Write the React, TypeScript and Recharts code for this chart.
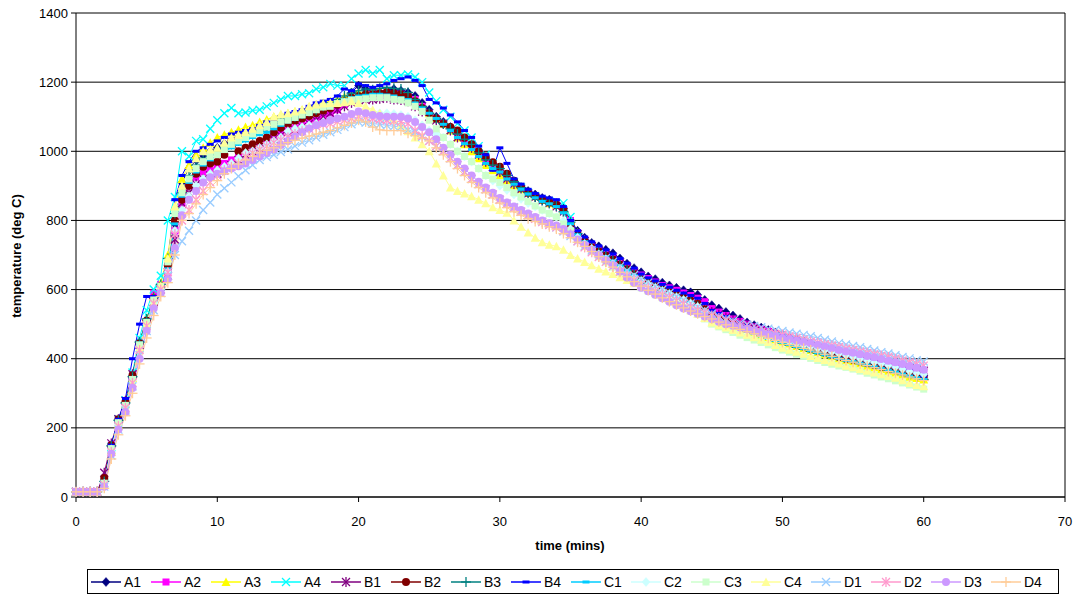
import React from "react";
import { LineChart, Line, CartesianGrid, XAxis, YAxis, ReferenceLine } from "recharts";

// time in minutes, every 30 s
const time = [
  0, 0.5, 1, 1.5, 2, 2.5, 3, 3.5, 4, 4.5, 5, 5.5, 6, 6.5, 7, 7.5, 8, 8.5, 9, 9.5,
  10, 10.5, 11, 11.5, 12, 12.5, 13, 13.5, 14, 14.5, 15, 15.5, 16, 16.5, 17, 17.5, 18, 18.5, 19, 19.5,
  20, 20.5, 21, 21.5, 22, 22.5, 23, 23.5, 24, 24.5, 25, 25.5, 26, 26.5, 27, 27.5, 28, 28.5, 29, 29.5,
  30, 30.5, 31, 31.5, 32, 32.5, 33, 33.5, 34, 34.5, 35, 35.5, 36, 36.5, 37, 37.5, 38, 38.5, 39, 39.5,
  40, 40.5, 41, 41.5, 42, 42.5, 43, 43.5, 44, 44.5, 45, 45.5, 46, 46.5, 47, 47.5, 48, 48.5, 49, 49.5,
  50, 50.5, 51, 51.5, 52, 52.5, 53, 53.5, 54, 54.5, 55, 55.5, 56, 56.5, 57, 57.5, 58, 58.5, 59, 59.5,
  60,
];

const A1 = [
  15, 15, 15, 15, 45, 145, 220, 272, 350, 450,
  512, 575, 600, 660, 790, 910, 950, 975, 990, 1000,
  1010, 1022, 1030, 1040, 1050, 1055, 1065, 1070, 1080, 1090,
  1095, 1100, 1105, 1110, 1115, 1120, 1130, 1140, 1150, 1170,
  1190, 1180, 1175, 1170, 1175, 1180, 1175, 1170, 1160, 1140,
  1120, 1100, 1085, 1070, 1055, 1035, 1015, 995, 975, 960,
  945, 925, 910, 895, 885, 875, 865, 860, 850, 835,
  800, 770, 750, 735, 725, 715, 705, 690, 675, 662,
  650, 638, 630, 620, 612, 605, 598, 592, 585, 570,
  555, 545, 535, 525, 515, 505, 497, 490, 483, 476,
  470, 463, 456, 450, 444, 438, 432, 426, 420, 414,
  408, 402, 396, 390, 385, 380, 375, 370, 365, 358,
  352,
];
const A2 = [
  15, 15, 15, 15, 40, 150, 218, 265, 345, 440,
  505, 590, 615, 650, 770, 850, 900, 925, 940, 945,
  955, 965, 975, 985, 1000, 1005, 1015, 1025, 1040, 1050,
  1060, 1068, 1075, 1085, 1090, 1098, 1110, 1120, 1135, 1145,
  1150, 1160, 1165, 1165, 1160, 1165, 1165, 1160, 1150, 1130,
  1110, 1095, 1080, 1065, 1050, 1030, 1010, 990, 970, 955,
  940, 920, 905, 890, 880, 872, 860, 855, 845, 830,
  800, 765, 745, 730, 718, 705, 695, 680, 668, 655,
  642, 632, 622, 612, 605, 598, 590, 583, 575, 565,
  545, 535, 525, 515, 508, 500, 493, 486, 479, 472,
  465, 459, 453, 447, 441, 436, 431, 426, 420, 415,
  410, 405, 400, 396, 391, 386, 381, 377, 372, 368,
  365,
];
const A3 = [
  15, 15, 15, 15, 35, 135, 210, 268, 345, 445,
  515, 580, 620, 700, 840, 920, 960, 990, 1010, 1025,
  1040, 1048, 1055, 1062, 1070, 1075, 1085, 1092, 1100, 1105,
  1110, 1115, 1120, 1128, 1135, 1140, 1145, 1150, 1158, 1165,
  1170, 1168, 1172, 1175, 1175, 1170, 1168, 1160, 1150, 1130,
  1110, 1095, 1080, 1060, 1040, 1020, 1000, 980, 960, 945,
  930, 915, 900, 890, 880, 870, 860, 850, 845, 830,
  800, 765, 745, 728, 715, 700, 688, 675, 660, 648,
  635, 625, 615, 605, 596, 588, 580, 572, 562, 545,
  530, 520, 512, 503, 494, 486, 478, 470, 463, 456,
  450, 444, 437, 431, 425, 419, 413, 407, 401, 395,
  392, 386, 380, 375, 370, 365, 360, 354, 348, 344,
  340,
];
// A4 stops reading after 35 min
const A4 = [
  15, 15, 15, 15, 40, 145, 225, 280, 360, 460,
  540, 600, 640, 800, 868, 1000, 985, 1030, 1035, 1065,
  1090, 1110, 1125, 1110, 1112, 1118, 1120, 1130, 1140, 1150,
  1160, 1160, 1165, 1168, 1180, 1185, 1195, 1190, 1190, 1210,
  1225, 1235, 1225, 1235, 1210, 1220, 1220, 1222, 1215, 1200,
  1170, 1145, 1120, 1100, 1080, 1060, 1040, 1015, 990, 965,
  940, 925, 910, 895, 880, 870, 860, 855, 850, 850,
  810,
];
const B1 = [
  15, 15, 15, 15, 70, 155, 225, 278, 355, 440,
  500, 565, 600, 640, 745, 850, 880, 905, 920, 930,
  935, 945, 960, 975, 990, 1000, 1010, 1025, 1035, 1045,
  1055, 1062, 1070, 1080, 1090, 1100, 1110, 1120, 1130, 1140,
  1150, 1148, 1150, 1152, 1155, 1150, 1148, 1145, 1130, 1115,
  1100, 1090, 1080, 1060, 1040, 1025, 1010, 990, 970, 955,
  940, 920, 905, 890, 878, 868, 858, 850, 840, 825,
  790, 760, 740, 725, 712, 700, 688, 675, 662, 648,
  630, 620, 612, 604, 596, 588, 580, 572, 562, 548,
  535, 527, 519, 511, 503, 496, 489, 482, 475, 468,
  460, 454, 448, 443, 437, 432, 426, 421, 416, 412,
  408, 403, 399, 395, 390, 386, 382, 377, 373, 369,
  365,
];
const B2 = [
  15, 15, 15, 15, 55, 150, 225, 275, 352, 445,
  510, 575, 610, 670, 800, 860, 900, 935, 955, 965,
  970, 990, 1030, 1000, 1010, 1020, 1030, 1040, 1055, 1068,
  1080, 1088, 1095, 1102, 1110, 1118, 1125, 1135, 1145, 1155,
  1160, 1165, 1165, 1168, 1170, 1168, 1165, 1160, 1145, 1125,
  1110, 1095, 1080, 1070, 1060, 1040, 1020, 1000, 985, 968,
  955, 935, 915, 895, 880, 870, 860, 852, 845, 830,
  790, 760, 740, 722, 710, 698, 686, 672, 658, 644,
  630, 620, 610, 600, 592, 584, 576, 568, 558, 542,
  530, 520, 511, 502, 494, 487, 480, 473, 466, 460,
  455, 448, 441, 435, 429, 423, 417, 411, 405, 400,
  397, 392, 387, 382, 377, 372, 367, 362, 357, 352,
  348,
];
const B3 = [
  15, 15, 15, 15, 45, 148, 222, 272, 348, 448,
  515, 578, 615, 690, 820, 880, 930, 960, 980, 990,
  1000, 1010, 1020, 1030, 1040, 1048, 1058, 1065, 1075, 1085,
  1095, 1100, 1108, 1115, 1120, 1130, 1140, 1150, 1160, 1168,
  1175, 1180, 1178, 1182, 1185, 1182, 1180, 1170, 1150, 1130,
  1110, 1095, 1080, 1065, 1050, 1035, 1020, 995, 975, 960,
  950, 930, 912, 895, 880, 868, 858, 850, 842, 825,
  795, 762, 740, 722, 710, 698, 685, 670, 655, 642,
  630, 618, 608, 598, 588, 580, 572, 563, 552, 535,
  520, 512, 503, 495, 487, 479, 472, 465, 458, 451,
  445, 439, 433, 427, 421, 416, 411, 405, 400, 395,
  390, 385, 380, 375, 370, 365, 360, 354, 348, 344,
  340,
];
const B4 = [
  15, 15, 15, 15, 40, 150, 225, 285, 400, 500,
  580, 580, 600, 680, 860, 930, 970, 1000, 1010, 1020,
  1030, 1040, 1050, 1055, 1060, 1065, 1075, 1085, 1090, 1100,
  1110, 1115, 1120, 1130, 1140, 1145, 1150, 1160, 1180, 1175,
  1195, 1190, 1185, 1190, 1195, 1205, 1210, 1215, 1205, 1190,
  1150, 1140, 1125, 1105, 1085, 1060, 1040, 1015, 990, 945,
  1010, 965, 920, 905, 890, 878, 870, 865, 860, 840,
  800, 770, 752, 738, 726, 715, 703, 690, 676, 662,
  645, 634, 625, 615, 607, 598, 590, 583, 575, 560,
  540, 531, 522, 513, 504, 496, 489, 482, 475, 468,
  460, 454, 448, 442, 436, 431, 425, 420, 415, 410,
  405, 400, 395, 390, 385, 380, 375, 370, 365, 358,
  350,
];
const C1 = [
  15, 15, 15, 15, 40, 140, 215, 268, 345, 445,
  505, 570, 605, 660, 790, 870, 910, 940, 960, 975,
  990, 1000, 1010, 1020, 1030, 1040, 1048, 1055, 1065, 1075,
  1085, 1092, 1100, 1108, 1115, 1125, 1135, 1142, 1150, 1155,
  1160, 1162, 1165, 1165, 1163, 1160, 1155, 1150, 1140, 1125,
  1110, 1095, 1078, 1060, 1040, 1022, 1005, 985, 965, 950,
  940, 920, 905, 890, 876, 865, 855, 848, 840, 822,
  790, 758, 738, 722, 708, 695, 682, 668, 655, 640,
  625, 615, 605, 596, 588, 580, 572, 563, 553, 535,
  520, 512, 504, 496, 488, 480, 473, 466, 459, 453,
  447, 441, 435, 429, 423, 417, 411, 405, 400, 395,
  392, 387, 382, 377, 372, 367, 362, 356, 350, 345,
  340,
];
const C2 = [
  15, 15, 15, 15, 38, 138, 212, 262, 338, 435,
  500, 560, 600, 650, 770, 830, 870, 900, 920, 935,
  945, 955, 965, 980, 995, 1000, 1010, 1020, 1030, 1040,
  1058, 1065, 1070, 1075, 1080, 1085, 1090, 1095, 1100, 1105,
  1110, 1110, 1112, 1110, 1110, 1108, 1105, 1100, 1090, 1075,
  1060, 1050, 1040, 1020, 1000, 985, 970, 950, 930, 915,
  900, 888, 875, 862, 850, 840, 830, 820, 810, 798,
  775, 750, 732, 718, 702, 688, 674, 660, 646, 635,
  625, 615, 605, 596, 587, 578, 570, 560, 550, 535,
  520, 512, 505, 498, 490, 483, 476, 469, 462, 458,
  455, 450, 445, 440, 435, 430, 425, 420, 415, 410,
  405, 400, 395, 390, 386, 381, 376, 370, 364, 359,
  355,
];
const C3 = [
  15, 15, 15, 15, 40, 140, 215, 265, 340, 440,
  505, 570, 610, 680, 820, 880, 920, 950, 970, 985,
  990, 1005, 1020, 1030, 1040, 1050, 1060, 1070, 1078, 1085,
  1090, 1098, 1105, 1112, 1120, 1128, 1130, 1138, 1143, 1148,
  1150, 1152, 1155, 1155, 1155, 1150, 1148, 1140, 1130, 1115,
  1090, 1065, 1040, 1020, 1000, 985, 970, 950, 930, 920,
  910, 895, 880, 868, 855, 842, 830, 820, 810, 790,
  770, 745, 725, 710, 695, 680, 665, 650, 635, 620,
  605, 595, 585, 576, 567, 558, 548, 538, 528, 515,
  500, 492, 484, 476, 468, 461, 454, 447, 440, 432,
  425, 419, 413, 407, 401, 395, 389, 384, 379, 375,
  370, 364, 358, 353, 347, 342, 336, 330, 324, 318,
  312,
];
const C4 = [
  15, 15, 15, 15, 35, 130, 205, 255, 330, 430,
  500, 560, 610, 690, 840, 900, 950, 980, 1000, 1005,
  1010, 1025, 1040, 1048, 1056, 1065, 1075, 1085, 1100, 1108,
  1110, 1115, 1120, 1130, 1135, 1138, 1140, 1140, 1142, 1145,
  1140, 1130, 1120, 1110, 1100, 1090, 1075, 1058, 1040, 1020,
  1000, 965, 930, 895, 885, 878, 870, 860, 850, 838,
  830, 822, 800, 782, 765, 750, 737, 730, 725, 715,
  700, 690, 680, 670, 660, 652, 645, 636, 628, 619,
  610, 600, 590, 580, 570, 560, 550, 540, 530, 518,
  505, 497, 490, 483, 476, 469, 462, 455, 448, 440,
  432, 426, 420, 414, 408, 402, 396, 391, 386, 380,
  375, 370, 365, 360, 355, 350, 345, 338, 330, 324,
  320,
];
const D1 = [
  15, 15, 15, 15, 30, 120, 195, 250, 320, 410,
  480, 540, 590, 640, 700, 740, 770, 800, 830, 852,
  875, 893, 910, 928, 945, 960, 975, 983, 990, 998,
  1005, 1015, 1025, 1032, 1040, 1048, 1055, 1062, 1070, 1078,
  1085, 1083, 1080, 1078, 1075, 1072, 1070, 1062, 1055, 1042,
  1030, 1015, 1000, 980, 960, 940, 920, 905, 890, 875,
  860, 848, 838, 826, 815, 806, 797, 788, 780, 768,
  755, 740, 725, 713, 702, 691, 680, 667, 655, 642,
  630, 620, 610, 600, 590, 580, 570, 560, 550, 540,
  530, 522, 515, 509, 503, 499, 495, 491, 487, 483,
  480, 476, 472, 469, 465, 460, 455, 450, 445, 441,
  437, 433, 428, 424, 419, 415, 410, 405, 401, 396,
  392,
];
const D2 = [
  15, 15, 15, 15, 35, 130, 205, 258, 330, 425,
  495, 560, 600, 650, 760, 800, 830, 860, 885, 910,
  930, 945, 955, 965, 985, 995, 1005, 1015, 1025, 1033,
  1040, 1050, 1058, 1065, 1072, 1078, 1080, 1085, 1090, 1095,
  1100, 1098, 1095, 1092, 1090, 1088, 1085, 1080, 1060, 1045,
  1030, 1015, 1000, 980, 960, 940, 920, 905, 890, 875,
  860, 848, 836, 825, 815, 805, 795, 787, 780, 770,
  760, 740, 722, 708, 694, 680, 667, 652, 640, 627,
  615, 605, 595, 586, 577, 568, 559, 550, 541, 533,
  525, 518, 511, 504, 497, 490, 484, 478, 474, 472,
  470, 465, 460, 455, 450, 446, 442, 438, 434, 429,
  425, 421, 417, 413, 409, 405, 400, 395, 390, 385,
  380,
];
const D3 = [
  15, 15, 15, 15, 30, 125, 195, 245, 315, 400,
  480, 545, 590, 630, 720, 815, 860, 885, 910, 925,
  935, 942, 950, 957, 965, 975, 985, 995, 1005, 1018,
  1030, 1042, 1055, 1065, 1075, 1082, 1090, 1095, 1100, 1108,
  1115, 1110, 1105, 1102, 1100, 1100, 1100, 1095, 1085, 1070,
  1055, 1035, 1010, 990, 970, 950, 930, 912, 895, 880,
  865, 852, 840, 830, 820, 810, 800, 792, 785, 775,
  760, 745, 730, 715, 700, 685, 670, 652, 635, 620,
  605, 595, 585, 575, 565, 555, 545, 537, 530, 522,
  515, 507, 500, 495, 490, 485, 480, 475, 470, 465,
  460, 456, 452, 448, 445, 440, 435, 430, 425, 421,
  417, 413, 408, 404, 399, 394, 390, 385, 379, 374,
  368,
];
const D4 = [
  15, 15, 15, 15, 25, 110, 180, 235, 300, 385,
  460, 525, 580, 620, 700, 800, 820, 848, 875, 895,
  915, 935, 950, 963, 975, 985, 995, 1003, 1010, 1018,
  1025, 1032, 1038, 1044, 1050, 1055, 1060, 1068, 1075, 1082,
  1090, 1085, 1070, 1062, 1060, 1060, 1060, 1052, 1045, 1038,
  1030, 1010, 990, 970, 950, 930, 910, 895, 880, 865,
  850, 837, 825, 815, 805, 797, 790, 782, 775, 762,
  750, 737, 725, 710, 695, 680, 665, 650, 637, 623,
  610, 598, 587, 576, 565, 556, 547, 538, 530, 522,
  515, 506, 498, 490, 485, 478, 472, 465, 459, 453,
  447, 441, 436, 430, 425, 419, 413, 407, 400, 395,
  390, 385, 380, 374, 369, 363, 358, 353, 347, 342,
  337,
];

const xTicks = [0, 10, 20, 30, 40, 50, 60, 70];
const yTicks = [0, 200, 400, 600, 800, 1000, 1200, 1400];

type Shape = "diamond" | "square" | "triangle" | "x" | "star" | "circle" | "plus" | "dash";

const series: { name: string; values: number[]; color: string; shape: Shape }[] = [
  { name: "A1", values: A1, color: "#000080", shape: "diamond" },
  { name: "A2", values: A2, color: "#FF00FF", shape: "square" },
  { name: "A3", values: A3, color: "#FFFF00", shape: "triangle" },
  { name: "A4", values: A4, color: "#00FFFF", shape: "x" },
  { name: "B1", values: B1, color: "#800080", shape: "star" },
  { name: "B2", values: B2, color: "#800000", shape: "circle" },
  { name: "B3", values: B3, color: "#008080", shape: "plus" },
  { name: "B4", values: B4, color: "#0000FF", shape: "dash" },
  { name: "C1", values: C1, color: "#00CCFF", shape: "dash" },
  { name: "C2", values: C2, color: "#CCFFFF", shape: "diamond" },
  { name: "C3", values: C3, color: "#CCFFCC", shape: "square" },
  { name: "C4", values: C4, color: "#FFFF99", shape: "triangle" },
  { name: "D1", values: D1, color: "#99CCFF", shape: "x" },
  { name: "D2", values: D2, color: "#FF99CC", shape: "star" },
  { name: "D3", values: D3, color: "#CC99FF", shape: "circle" },
  { name: "D4", values: D4, color: "#FFCC99", shape: "plus" },
];

const chartData = time.map((t, i) => {
  const row: Record<string, number | null> = { t };
  series.forEach((s) => {
    row[s.name] = s.values[i] ?? null;
  });
  return row;
});

const FONT = '"Liberation Sans", Arial, sans-serif';

function Marker({ shape, x, y, color }: { shape: Shape; x: number; y: number; color: string }) {
  const s = 4;
  switch (shape) {
    case "diamond":
      return <polygon points={`${x},${y - s - 0.5} ${x + s},${y} ${x},${y + s + 0.5} ${x - s},${y}`} fill={color} stroke={color} strokeWidth={0.5} />;
    case "square":
      return <rect x={x - 3.5} y={y - 3.5} width={7} height={7} fill={color} />;
    case "triangle":
      return <polygon points={`${x},${y - s - 0.5} ${x + s + 0.5},${y + s} ${x - s - 0.5},${y + s}`} fill={color} />;
    case "x":
      return (
        <g stroke={color} strokeWidth={1.3}>
          <line x1={x - s} y1={y - s} x2={x + s} y2={y + s} />
          <line x1={x - s} y1={y + s} x2={x + s} y2={y - s} />
        </g>
      );
    case "star":
      return (
        <g stroke={color} strokeWidth={1.3}>
          <line x1={x - s} y1={y - s} x2={x + s} y2={y + s} />
          <line x1={x - s} y1={y + s} x2={x + s} y2={y - s} />
          <line x1={x} y1={y - s - 1} x2={x} y2={y + s + 1} />
        </g>
      );
    case "circle":
      return <circle cx={x} cy={y} r={4} fill={color} />;
    case "plus":
      return (
        <g stroke={color} strokeWidth={1.3}>
          <line x1={x - s - 1} y1={y} x2={x + s + 1} y2={y} />
          <line x1={x} y1={y - s - 1} x2={x} y2={y + s + 1} />
        </g>
      );
    case "dash":
      return <rect x={x - 3.5} y={y - 1.5} width={7} height={3} fill={color} />;
  }
  return null;
}

const makeDot = (name: string, shape: Shape, color: string) => (props: any) => {
  const { cx, cy, index, value } = props;
  if (cx == null || cy == null || value == null) return <g key={`${name}-${index}`} />;
  return (
    <g key={`${name}-${index}`}>
      <Marker shape={shape} x={cx} y={cy} color={color} />
    </g>
  );
};

const tickStyle = { fontSize: 13, fill: "#000", fontFamily: FONT };

const App: React.FC = () => {
  return (
    <div style={{ position: "absolute", left: 0, top: 0, width: 1079, height: 596, background: "#fff", fontFamily: FONT }}>
      <LineChart width={1079} height={560} data={chartData} margin={{ top: 13, right: 14, bottom: 0, left: 0 }}>
        <CartesianGrid horizontal vertical={false} stroke="#000" strokeWidth={1} />
        <XAxis
          dataKey="t"
          type="number"
          domain={[0, 70]}
          ticks={xTicks}
          interval={0}
          height={63}
          tick={tickStyle}
          tickSize={5}
          tickMargin={15}
          axisLine={{ stroke: "#000" }}
          tickLine={{ stroke: "#000" }}
        />
        <YAxis
          type="number"
          domain={[0, 1400]}
          ticks={yTicks}
          interval={0}
          width={76}
          tick={tickStyle}
          tickSize={5}
          tickMargin={3}
          axisLine={{ stroke: "#000" }}
          tickLine={{ stroke: "#000" }}
        />
        <ReferenceLine x={70} stroke="#000" />
        {series.map((s) => (
          <Line
            key={s.name}
            type="linear"
            dataKey={s.name}
            stroke={s.color}
            strokeWidth={1}
            dot={makeDot(s.name, s.shape, s.color)}
            activeDot={false}
            connectNulls={false}
            isAnimationActive={false}
          />
        ))}
      </LineChart>

      {/* axis titles */}
      <div
        style={{
          position: "absolute",
          left: 16,
          top: 256,
          transform: "translate(-50%, -50%) rotate(-90deg)",
          whiteSpace: "nowrap",
          fontSize: 13,
          fontWeight: "bold",
        }}
      >
        temperature (deg C)
      </div>
      <div
        style={{
          position: "absolute",
          left: 570,
          top: 545,
          transform: "translate(-50%, -50%)",
          whiteSpace: "nowrap",
          fontSize: 13,
          fontWeight: "bold",
        }}
      >
        time (mins)
      </div>

      {/* legend */}
      <div
        style={{
          position: "absolute",
          left: 87,
          top: 569,
          width: 967,
          height: 23,
          border: "1px solid #000",
          display: "flex",
          alignItems: "center",
          paddingLeft: 3,
          boxSizing: "content-box",
        }}
      >
        {series.map((s) => (
          <div key={s.name} style={{ display: "flex", alignItems: "center", width: 60, flex: "0 0 60px" }}>
            <svg width={30} height={12}>
              <line x1={0} y1={6} x2={30} y2={6} stroke={s.color} strokeWidth={1.5} />
              <Marker shape={s.shape} x={15} y={6} color={s.color} />
            </svg>
            <span style={{ fontSize: 14, marginLeft: 3, lineHeight: "14px" }}>{s.name}</span>
          </div>
        ))}
      </div>
    </div>
  );
};

export default App;
